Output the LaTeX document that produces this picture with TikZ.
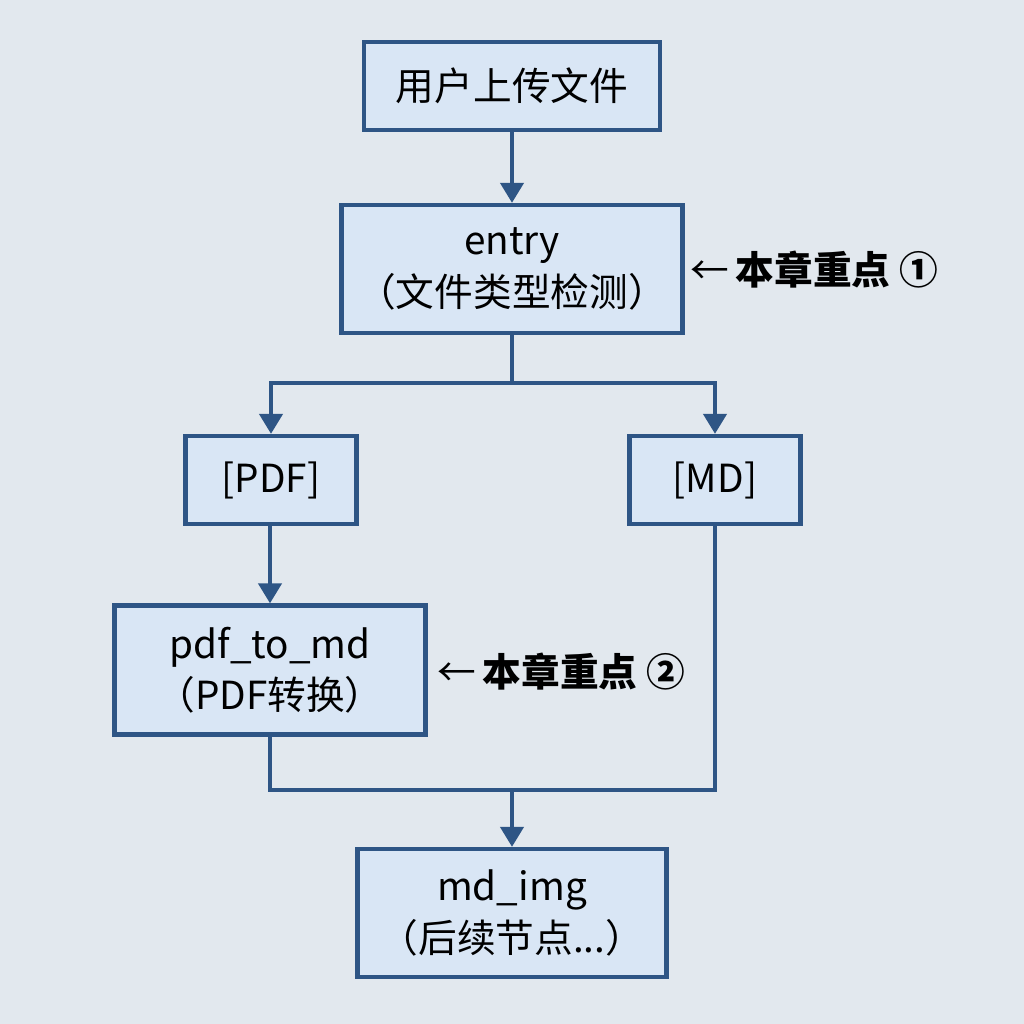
\documentclass[tikz,border=0pt]{standalone}
\usepackage{fontspec}
\setmainfont{Noto Sans CJK SC}
\usepackage{tikz}
\usetikzlibrary{arrows.meta}

\definecolor{bgcol}{HTML}{E2E8EE}
\definecolor{boxfill}{HTML}{D9E6F5}
\definecolor{boxline}{HTML}{2E5585}

\tikzset{
 flowbox/.style={draw=boxline,fill=boxfill,line width=1.2pt,align=center,
   inner sep=0pt,font=\fontsize{11}{14.6}\selectfont},
 flowline/.style={draw=boxline,line width=1.2pt},
 note/.style={anchor=west,inner sep=0pt,font=\fontsize{11}{13}\selectfont}
}

\begin{document}
\begin{tikzpicture}[x=0.01cm,y=-0.01cm]
 \fill[bgcol] (0,0) rectangle (1024,1024);
 \useasboundingbox (0,0) rectangle (1024,1024);

 \node [flowbox,minimum width=2.96cm,minimum height=0.88cm] (upload) at (512,86) {用户上传文件};
 \node [flowbox,minimum width=3.41cm,minimum height=1.28cm] (entry) at (512,269) {entry\\（文件类型检测）};
 \node [flowbox,minimum width=1.71cm,minimum height=0.88cm] (pdf) at (271,480) {[PDF]};
 \node [flowbox,minimum width=1.71cm,minimum height=0.88cm] (md) at (715,480) {[MD]};
 \node [flowbox,minimum width=3.11cm,minimum height=1.29cm] (pdf2md) at (270,670) {pdf\_to\_md\\（PDF转换）};
 \node [flowbox,minimum width=3.09cm,minimum height=1.28cm] (mdimg) at (512,913) {md\_img\\（后续节点...）};

 \coordinate (split) at (512,383);
 \coordinate (joinL) at (270,790);
 \coordinate (joinM) at (512,790);
 \coordinate (joinR) at (715,790);

 \draw[flowline,->,>={Triangle[length=0.2cm,width=0.23cm]}] (upload) -- (entry);
 \draw[flowline] (entry) -- (split);
 \draw[flowline,->,>={Triangle[length=0.2cm,width=0.23cm]}] (split) -| (pdf);
 \draw[flowline,->,>={Triangle[length=0.2cm,width=0.23cm]}] (split) -| (md);
 \draw[flowline,->,>={Triangle[length=0.2cm,width=0.23cm]}] (pdf.south -| pdf2md) -- (pdf2md);
 \draw[flowline,line join=miter] (pdf2md.south) -- (joinL) -- (joinR) -- (md.south);
 \draw[flowline,->,>={Triangle[length=0.2cm,width=0.23cm]}] (joinM) -- (mdimg);

 \node [note] (note1) at (690,270) {←\,\textbf{本章重点 ①}};
 \node [note] (note2) at (437,672) {←\,\textbf{本章重点 ②}};
\end{tikzpicture}
\end{document}
